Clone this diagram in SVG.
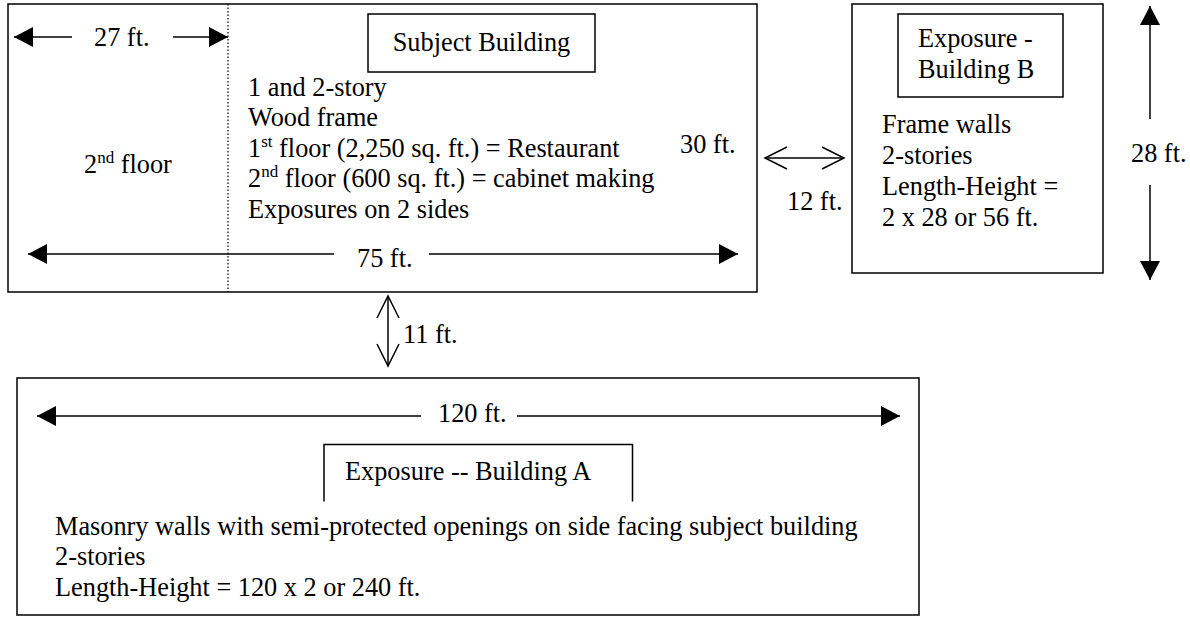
<svg xmlns="http://www.w3.org/2000/svg" width="1190" height="617" viewBox="0 0 1190 617">
<style>
text{font-family:"Liberation Serif","Times New Roman",serif;font-size:26.3px;fill:#000}
.box{fill:none;stroke:#000;stroke-width:1.5}
.ln{fill:none;stroke:#000;stroke-width:1.5}
.sup{font-size:17px}
</style>
<defs>
<marker id="fa" markerUnits="userSpaceOnUse" markerWidth="20" markerHeight="22" refX="19" refY="10" orient="auto-start-reverse">
<path d="M0,0 L19,10 L0,20 z" fill="#000"/>
</marker>
<marker id="oa" markerUnits="userSpaceOnUse" markerWidth="26" markerHeight="26" refX="23" refY="12" orient="auto-start-reverse">
<path d="M1,1 L23,12 L1,23" fill="none" stroke="#000" stroke-width="1.5"/>
</marker>
</defs>
<rect width="1190" height="617" fill="#fff"/>

<g id="subject-building">
<rect class="box" x="8" y="4" width="749" height="288"/>
<line x1="228" y1="4" x2="228" y2="292" stroke="#000" stroke-width="1.2" stroke-dasharray="1.5,2"/>
<rect class="box" x="368" y="14" width="227" height="58"/>
<text x="481.5" y="51" text-anchor="middle">Subject Building</text>
<text x="248" y="96">1 and 2-story</text>
<text x="248" y="126">Wood frame</text>
<text x="248" y="157">1<tspan class="sup" dy="-10">st</tspan><tspan dy="10"> floor (2,250 sq. ft.) = Restaurant</tspan></text>
<text x="248" y="187">2<tspan class="sup" dy="-10">nd</tspan><tspan dy="10"> floor (600 sq. ft.) = cabinet making</tspan></text>
<text x="248" y="218">Exposures on 2 sides</text>
<text x="84" y="173">2<tspan class="sup" dy="-10">nd</tspan><tspan dy="10"> floor</tspan></text>
<text x="94" y="46">27 ft.</text>
<text x="357" y="267">75 ft.</text>
<text x="680" y="153">30 ft.</text>
</g>

<g id="building-b">
<rect class="box" x="852" y="4" width="251" height="269"/>
<rect class="box" x="898" y="14" width="165" height="83"/>
<text x="918" y="47">Exposure -</text>
<text x="918" y="78">Building B</text>
<text x="882" y="133">Frame walls</text>
<text x="882" y="164">2-stories</text>
<text x="882" y="195">Length-Height =</text>
<text x="882" y="226">2 x 28 or 56 ft.</text>
</g>

<g id="building-a">
<rect class="box" x="17" y="378" width="902" height="237"/>
<path class="box" d="M324,501.5 V444.5 H632.5 V501.5"/>
<text x="345" y="480">Exposure -- Building A</text>
<text x="55" y="535">Masonry walls with semi-protected openings on side facing subject building</text>
<text x="55" y="565">2-stories</text>
<text x="55" y="596">Length-Height = 120 x 2 or 240 ft.</text>
<text x="438" y="422">120 ft.</text>
</g>

<g id="dimensions">
<text x="787" y="210">12 ft.</text>
<text x="1131" y="162">28 ft.</text>
<text x="403" y="343">11 ft.</text>
</g>

<g id="connectors">
<line class="ln" x1="72" y1="37" x2="14" y2="37" marker-end="url(#fa)"/>
<line class="ln" x1="173" y1="37" x2="228" y2="37" marker-end="url(#fa)"/>
<line class="ln" x1="334" y1="254" x2="28" y2="254" marker-end="url(#fa)"/>
<line class="ln" x1="429" y1="254" x2="738" y2="254" marker-end="url(#fa)"/>
<line class="ln" x1="765" y1="158" x2="844" y2="158" marker-start="url(#oa)" marker-end="url(#oa)"/>
<line class="ln" x1="1150" y1="119" x2="1150" y2="6" marker-end="url(#fa)"/>
<line class="ln" x1="1150" y1="185" x2="1150" y2="280" marker-end="url(#fa)"/>
<line class="ln" x1="388" y1="296" x2="388" y2="366" marker-start="url(#oa)" marker-end="url(#oa)"/>
<line class="ln" x1="421" y1="416" x2="37" y2="416" marker-end="url(#fa)"/>
<line class="ln" x1="517" y1="416" x2="900" y2="416" marker-end="url(#fa)"/>
</g>
</svg>
